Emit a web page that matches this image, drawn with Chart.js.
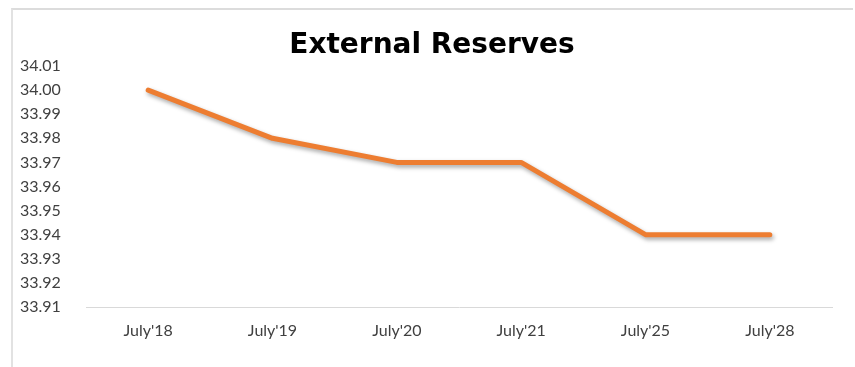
<!DOCTYPE html>
<html>
<head>
<meta charset="utf-8">
<script src="https://cdn.jsdelivr.net/npm/chart.js@4/dist/chart.umd.min.js"></script>
<style>
  body { margin: 0; background: #fff; }
  #wrap { position: relative; width: 855px; height: 367px; }
  #frame {
    position: absolute; left: 11px; top: 8px; width: 840px; height: 359px;
    border-top: 2px solid #dcdcdc; border-left: 2px solid #e2e2e2;
  }
  canvas { position: absolute; left: 0; top: 0; }
</style>
</head>
<body>
<div id="wrap">
  <div id="frame"></div>
  <canvas id="reserves" width="855" height="367"></canvas>
</div>
<script>
/**
 * DATA
 */
const periods = ["July'18", "July'19", "July'20", "July'21", "July'25", "July'28"];
const reserves = [34.00, 33.98, 33.97, 33.97, 33.94, 33.94];
const yTicks = [33.91, 33.92, 33.93, 33.94, 33.95, 33.96, 33.97, 33.98, 33.99, 34.00, 34.01];

const chartTitle = "External Reserves";

/**
 * Plugins
 */
// soft drop shadow under the line
const lineShadow = {
  id: "lineShadow",
  beforeDatasetDraw: (chart) => {
    const ctx = chart.ctx;
    ctx.save();
    ctx.shadowColor = "rgba(0,0,0,0.35)";
    ctx.shadowBlur = 4;
    ctx.shadowOffsetX = 1.5;
    ctx.shadowOffsetY = 2.5;
  },
  afterDatasetDraw: (chart) => {
    chart.ctx.restore();
  }
};

const titleText = {
  id: "titleText",
  afterDraw: (chart) => {
    const ctx = chart.ctx;
    ctx.save();
    ctx.font = "bold 28px 'DejaVu Sans'";
    ctx.fillStyle = "#000";
    ctx.textAlign = "center";
    ctx.textBaseline = "middle";
    ctx.fillText(chartTitle, 432, 46);
    ctx.restore();
  }
};

/**
 * Chart
 */
new Chart(document.getElementById("reserves"), {
  type: "line",
  data: {
    labels: periods,
    datasets: [{
      data: reserves,
      borderColor: "#ED7D31",
      borderWidth: 5,
      borderCapStyle: "round",
      borderJoinStyle: "round",
      pointRadius: 0,
      tension: 0
    }]
  },
  options: {
    responsive: false,
    animation: false,
    layout: { padding: { top: 66, left: 20, right: 23, bottom: 15 } },
    plugins: {
      legend: { display: false },
      title: { display: false },
      tooltip: { enabled: false }
    },
    scales: {
      x: {
        offset: true,
        grid: { display: false },
        border: { display: true, color: "#d9d9d9", width: 1 },
        ticks: { color: "#404040", font: { family: "Lato", size: 16 }, padding: 6, maxRotation: 0 },
        afterFit: (scale) => { scale.height = 45; }
      },
      y: {
        min: yTicks[0],
        max: yTicks[yTicks.length - 1],
        grid: { display: false },
        border: { display: false },
        afterBuildTicks: (scale) => { scale.ticks = yTicks.map(v => ({ value: v })); },
        ticks: {
          color: "#404040",
          font: { family: "Lato", size: 16 },
          crossAlign: "far",
          callback: (v) => Number(v).toFixed(2)
        },
        afterFit: (scale) => { scale.width = 66; }
      }
    }
  },
  plugins: [lineShadow, titleText]
});
</script>
</body>
</html>
